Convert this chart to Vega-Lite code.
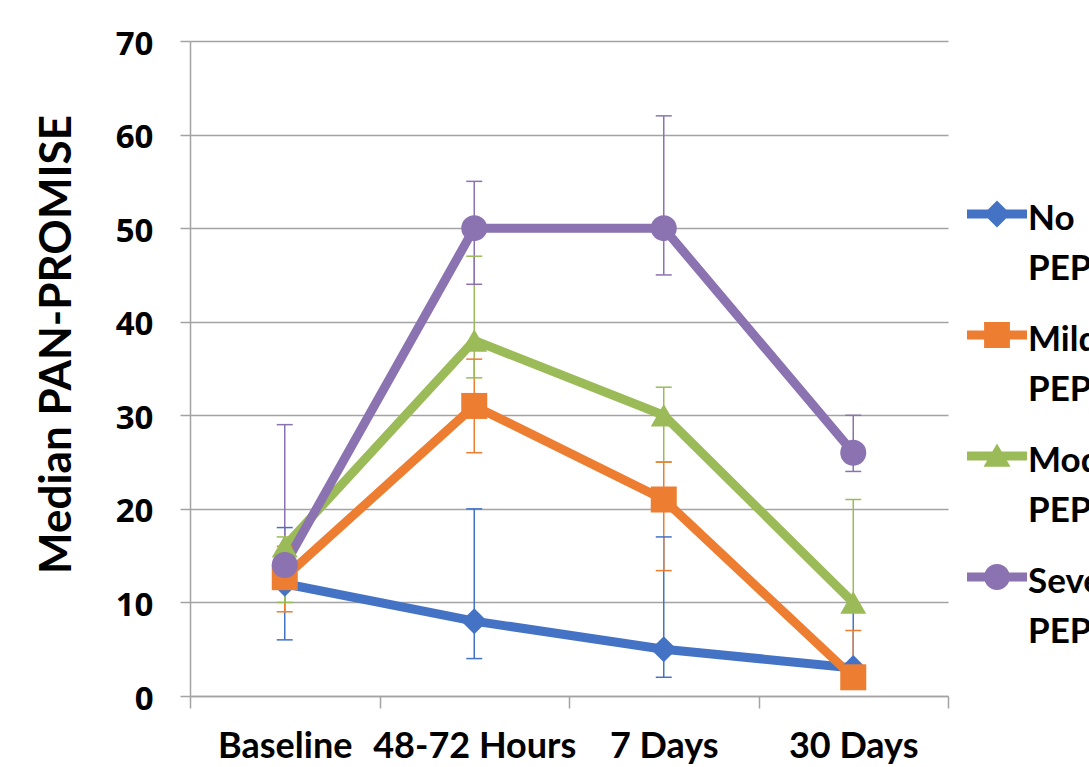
{
  "$schema": "https://vega.github.io/schema/vega-lite/v6.json",
  "width": 758,
  "height": 655,
  "autosize": {"type": "none"},
  "padding": {"left": 190, "top": 41, "right": 141, "bottom": 71},
  "background": "white",
  "config": {
    "view": {"stroke": null},
    "axis": {
      "domainColor": "#a3a3a3", "domainWidth": 1.5,
      "tickColor": "#a3a3a3", "tickWidth": 1.5,
      "gridColor": "#a3a3a3", "gridWidth": 1.5,
      "labelColor": "black", "titleColor": "black"
    }
  },
  "data": {"values": [
    {"group": "No PEP", "time": "Baseline", "median": 12, "lo": 6, "hi": 18},
    {"group": "No PEP", "time": "48-72 Hours", "median": 8, "lo": 4, "hi": 20},
    {"group": "No PEP", "time": "7 Days", "median": 5, "lo": 2, "hi": 17},
    {"group": "No PEP", "time": "30 Days", "median": 3, "lo": 1, "hi": 9},
    {"group": "Mild PEP", "time": "Baseline", "median": 12.7, "lo": 9, "hi": 16},
    {"group": "Mild PEP", "time": "48-72 Hours", "median": 31, "lo": 26, "hi": 36},
    {"group": "Mild PEP", "time": "7 Days", "median": 21, "lo": 13.4, "hi": 25},
    {"group": "Mild PEP", "time": "30 Days", "median": 2, "lo": 1, "hi": 7},
    {"group": "Moderate PEP", "time": "Baseline", "median": 16, "lo": 10, "hi": 17},
    {"group": "Moderate PEP", "time": "48-72 Hours", "median": 38, "lo": 34, "hi": 47},
    {"group": "Moderate PEP", "time": "7 Days", "median": 30, "lo": 25, "hi": 33},
    {"group": "Moderate PEP", "time": "30 Days", "median": 10, "lo": 9, "hi": 21},
    {"group": "Severe PEP", "time": "Baseline", "median": 14, "lo": 13, "hi": 29},
    {"group": "Severe PEP", "time": "48-72 Hours", "median": 50, "lo": 44, "hi": 55},
    {"group": "Severe PEP", "time": "7 Days", "median": 50, "lo": 45, "hi": 62},
    {"group": "Severe PEP", "time": "30 Days", "median": 26, "lo": 24, "hi": 30}
  ]},
  "encoding": {
    "x": {
      "field": "time", "type": "nominal",
      "sort": ["Baseline", "48-72 Hours", "7 Days", "30 Days"],
      "scale": {"type": "band", "paddingInner": 0, "paddingOuter": 0},
      "axis": {
        "title": null, "labelAngle": 0, "tickBand": "extent", "ticks": true,
        "tickSize": 12, "labelPadding": 21, "grid": false, "labelLimit": 0,
        "labelFont": "Lato", "labelFontSize": 36, "labelFontWeight": "bold"
      }
    },
    "color": {"field": "group", "type": "nominal"}
  },
  "layer": [
    {
      "mark": {"type": "line", "strokeWidth": 9, "strokeJoin": "round", "strokeCap": "round"},
      "encoding": {
        "y": {
          "field": "median", "type": "quantitative",
          "scale": {"domain": [0, 70], "nice": false, "zero": true},
          "axis": {
            "values": [0, 10, 20, 30, 40, 50, 60, 70],
            "grid": true, "tickSize": 10, "labelPadding": 27, "labelOffset": 3,
            "labelFont": "Open Sans", "labelFontSize": 33, "labelFontWeight": "bold",
            "title": "Median PAN-PROMISE",
            "titleFont": "Lato", "titleFontSize": 44, "titleFontWeight": "bold",
            "titleAngle": 270, "titleX": -133, "titleY": 303,
            "titleAlign": "center", "titleBaseline": "middle"
          }
        },
        "color": {
          "field": "group", "type": "nominal",
          "scale": {
            "domain": ["No PEP", "Mild PEP", "Moderate PEP", "Severe PEP"],
            "range": ["#4472C4", "#ED7D31", "#9BBB59", "#8B72B0"]
          },
          "legend": {
            "orient": "none", "legendX": 777, "legendY": 143,
            "title": null, "padding": 0,
            "symbolSize": 3600, "symbolStrokeWidth": 0,
            "labelFont": "Lato", "labelFontSize": 35, "labelFontWeight": "bold",
            "labelColor": "black", "labelOffset": 1, "labelLimit": 0,
            "labelBaseline": "top",
            "rowPadding": 18,
            "labelExpr": "split(datum.label, ' ')",
            "encode": {
              "labels": {"update": {"lineHeight": {"value": 50}, "dy": {"value": -12}}},
              "symbols": {"update": {
                "shape": {"signal": "datum.value === 'No PEP' ? 'M-1,-0.15H1V0.15H-1Z M0,-0.45L0.45,0L0,0.45L-0.45,0Z' : datum.value === 'Mild PEP' ? 'M-1,-0.15H1V0.15H-1Z M-0.43,-0.43H0.43V0.43H-0.43Z' : datum.value === 'Moderate PEP' ? 'M-1,-0.15H1V0.15H-1Z M0,-0.42L0.45,0.36H-0.45Z' : 'M-1,-0.15H1V0.15H-1Z M-0.43,0A0.43,0.43 0 1,1 0.43,0A0.43,0.43 0 1,1 -0.43,0Z'"},
                "fill": {"scale": "color", "field": "value"},
                "stroke": {"value": "transparent"},
                "strokeWidth": {"value": 0},
                "opacity": {"value": 1},
                "fillOpacity": {"value": 1}
              }}
            }
          }
        }
      }
    },
    {
      "mark": {"type": "rule", "strokeWidth": 1.5},
      "encoding": {
        "y": {"field": "lo", "type": "quantitative"},
        "y2": {"field": "hi"}
      }
    },
    {
      "mark": {"type": "tick", "size": 16, "thickness": 1.5, "opacity": 1},
      "encoding": {"y": {"field": "lo", "type": "quantitative"}}
    },
    {
      "mark": {"type": "tick", "size": 16, "thickness": 1.5, "opacity": 1},
      "encoding": {"y": {"field": "hi", "type": "quantitative"}}
    },
    {
      "transform": [{"filter": "datum.group === 'No PEP'"}],
      "mark": {"type": "point", "filled": true, "size": 676, "opacity": 1, "shape": "diamond"},
      "encoding": {"y": {"field": "median", "type": "quantitative"}}
    },
    {
      "transform": [{"filter": "datum.group === 'Mild PEP'"}],
      "mark": {"type": "point", "filled": true, "size": 676, "opacity": 1, "shape": "square"},
      "encoding": {"y": {"field": "median", "type": "quantitative"}}
    },
    {
      "transform": [{"filter": "datum.group === 'Moderate PEP'"}],
      "mark": {"type": "point", "filled": true, "size": 676, "opacity": 1, "shape": "triangle-up"},
      "encoding": {"y": {"field": "median", "type": "quantitative"}}
    },
    {
      "transform": [{"filter": "datum.group === 'Severe PEP'"}],
      "mark": {"type": "point", "filled": true, "size": 676, "opacity": 1, "shape": "circle"},
      "encoding": {"y": {"field": "median", "type": "quantitative"}}
    }
  ]
}
